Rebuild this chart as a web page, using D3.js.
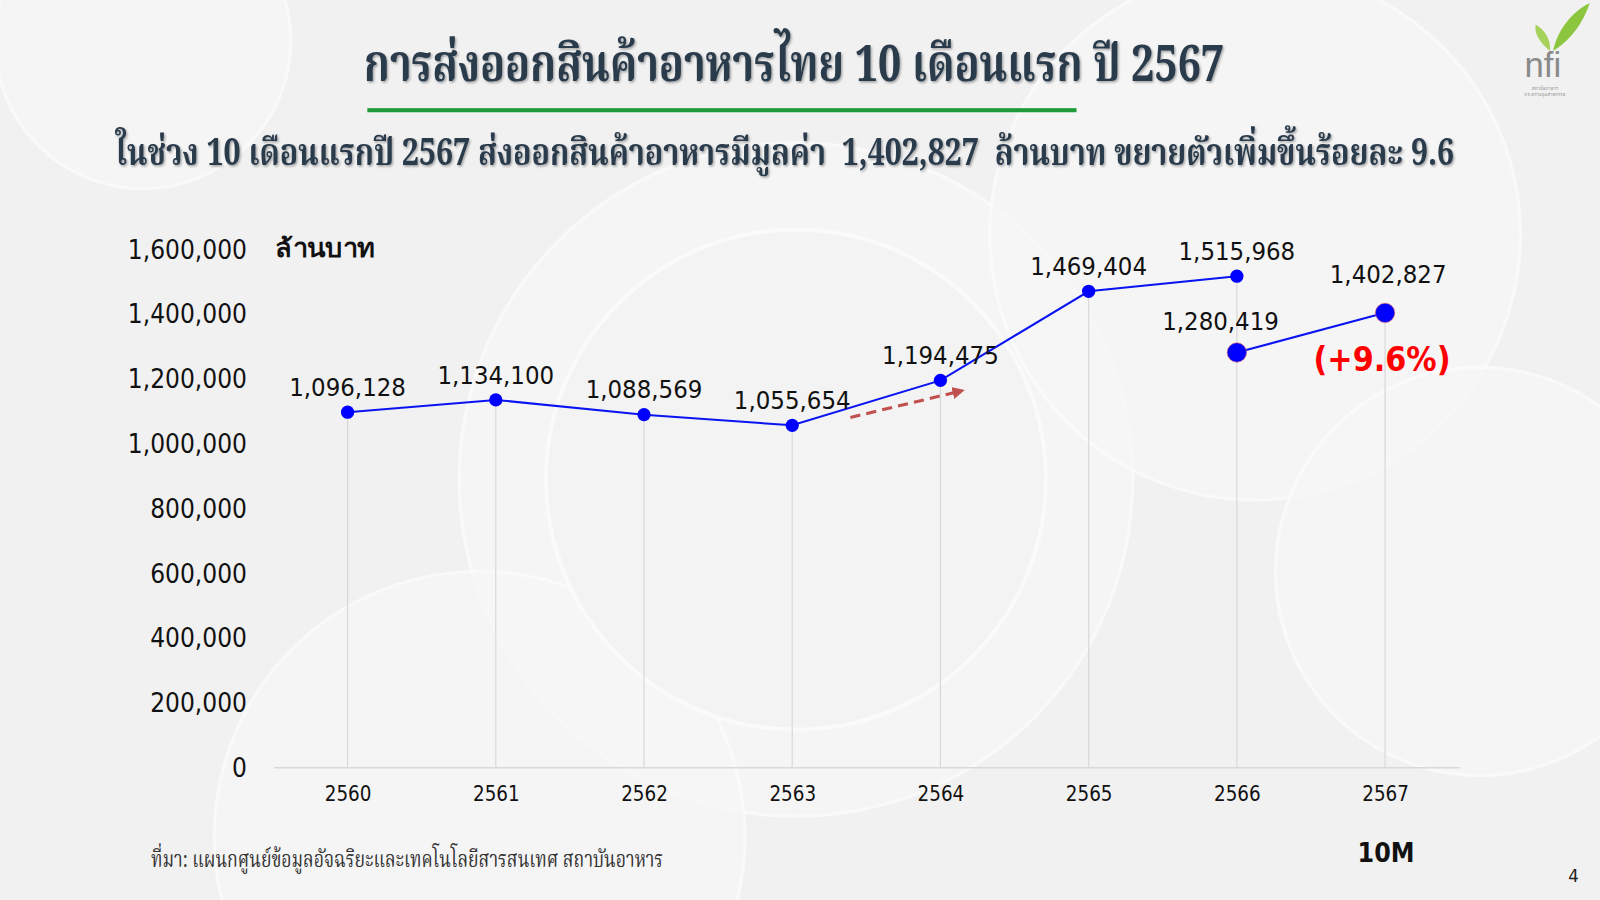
<!DOCTYPE html>
<html><head><meta charset="utf-8">
<script src="https://cdn.jsdelivr.net/npm/d3@7"></script>
<style>
html,body{margin:0;padding:0;background:#f3f3f3;}
svg{display:block;}
</style></head>
<body>
<svg id="c" width="1600" height="900"></svg>
<script>
const years = ["2560","2561","2562","2563","2564","2565","2566","2567"];
const fullYearYears = ["2560","2561","2562","2563","2564","2565","2566"];
const fullYearValues = [1096128, 1134100, 1088569, 1055654, 1194475, 1469404, 1515968];
const tenMonthYears = ["2566","2567"];
const tenMonthValues = [1280419, 1402827];
const yTicks = [0,200000,400000,600000,800000,1000000,1200000,1400000,1600000];
const titleText = "การส่งออกสินค้าอาหารไทย 10 เดือนแรก ปี 2567";
const subtitleText = "ในช่วง 10 เดือนแรกปี 2567 ส่งออกสินค้าอาหารมีมูลค่า  1,402,827  ล้านบาท ขยายตัวเพิ่มขึ้นร้อยละ 9.6";
const unitText = "ล้านบาท";
const growthText = "(+9.6%)";
const periodText = "10M";
const sourceText = "ที่มา: แผนกศูนย์ข้อมูลอัจฉริยะและเทคโนโลยีสารสนเทศ สถาบันอาหาร";

const K = 1600/1568;
const svgRoot = d3.select("#c");
const defs = svgRoot.append("defs");
const svg = svgRoot.append("g").attr("transform",`scale(${K})`);
const thaiSerif = "'Noto Serif Thai','Angsana New','TH Sarabun New','Noto Sans Thai',serif";
const tahoma = "Tahoma,'DejaVu Sans Condensed','Liberation Sans',sans-serif";

// horizontally condensed text: scale to a target width via transform
function condensed(parent, txt, cx, by, width, anchor) {
  const t = parent.append("text").attr("x",0).attr("y",0).style("white-space","pre")
    .attr("text-anchor",anchor).text(txt);
  return {t, fit(){
    const w = t.node().getComputedTextLength();
    const s = Math.min(1, width / w);
    t.attr("transform",`translate(${cx},${by}) scale(${s},1)`);
    return t;
  }};
}

// background decoration
const bg = svg.append("g");
bg.append("rect").attr("width",1600).attr("height",900).attr("fill","#f1f1f1");
[[140,40,145],[780,470,330],[1230,230,260],[1450,560,200],[470,820,260]].forEach(([cx,cy,r])=>{
  bg.append("circle").attr("cx",cx).attr("cy",cy).attr("r",r).attr("fill","#f7f7f7").attr("stroke","#fcfcfc").attr("stroke-width",3).attr("opacity",0.8);
});
bg.append("circle").attr("cx",780).attr("cy",470).attr("r",245).attr("fill","#f3f3f3").attr("stroke","#fafafa").attr("stroke-width",4);

// title
const f = defs.append("filter").attr("id","sh").attr("x","-5%").attr("y","-30%").attr("width","110%").attr("height","170%");
f.append("feDropShadow").attr("dx",1.5).attr("dy",1.5).attr("stdDeviation",1).attr("flood-color","#000").attr("flood-opacity",0.35);

const tt = condensed(svg, titleText, 778, 79, 843, "middle");
tt.t.attr("font-family",thaiSerif).attr("font-weight","bold").attr("font-size",50)
  .attr("fill","#2a3b4c").attr("filter","url(#sh)");
tt.fit();
svg.append("rect").attr("x",360).attr("y",106).attr("width",695).attr("height",4).attr("fill","#1f9a3a");
const st = condensed(svg, subtitleText, 769, 162, 1312, "middle");
st.t.attr("font-family",thaiSerif).attr("font-weight","bold").attr("font-size",37)
  .attr("fill","#2a3b4c").attr("filter","url(#sh)");
st.fit();

// scales
const x = d3.scalePoint().domain(years).range([268,1430]).padding(0.5);
const y = d3.scaleLinear().domain([0,1600000]).range([752,244]);

// y axis labels
const yAxis = d3.axisLeft(y).tickValues(yTicks).tickFormat(d3.format(",")).tickSize(0).tickPadding(0);
const ya = svg.append("g").attr("transform","translate(242,0)").call(yAxis);
ya.select(".domain").remove();
ya.selectAll("text").attr("font-family",tahoma).attr("font-size",25.5).attr("fill","#111").attr("dy","0.35em");

// x axis
const xAxis = d3.axisBottom(x).tickSize(0).tickPadding(15);
const xa = svg.append("g").attr("transform","translate(0,752)").call(xAxis);
xa.select(".domain").attr("stroke","#d9d9d9").attr("stroke-width",1.5);
xa.selectAll("text").attr("font-family",tahoma).attr("font-size",20).attr("fill","#111").attr("dy","0.9em");

// unit
svg.append("text").attr("x",270).attr("y",252).attr("font-family",tahoma).attr("font-weight","bold")
  .attr("font-size",25).attr("textLength",98).attr("lengthAdjust","spacingAndGlyphs").attr("fill","#111").text(unitText);

// drop lines
const topVals = years.map(yr=>{
  const a = fullYearYears.indexOf(yr), b = tenMonthYears.indexOf(yr);
  return Math.max(a>=0?fullYearValues[a]:0, b>=0?tenMonthValues[b]:0);
});
svg.append("g").selectAll("line").data(years).join("line")
  .attr("x1",d=>x(d)).attr("x2",d=>x(d))
  .attr("y1",(d,i)=>y(topVals[i])).attr("y2",752)
  .attr("stroke","#d9d9d9").attr("stroke-width",1.2);

const line = d3.line().x(d=>x(d[0])).y(d=>y(d[1]));
const fullData = fullYearYears.map((d,i)=>[d,fullYearValues[i]]);
const tenData = tenMonthYears.map((d,i)=>[d,tenMonthValues[i]]);

svg.append("path").datum(fullData).attr("d",line).attr("fill","none").attr("stroke","#0a14f0").attr("stroke-width",2);
svg.append("path").datum(tenData).attr("d",line).attr("fill","none").attr("stroke","#0a14f0").attr("stroke-width",2);

svg.append("g").selectAll("circle").data(fullData).join("circle")
  .attr("cx",d=>x(d[0])).attr("cy",d=>y(d[1])).attr("r",6.5).attr("fill","#0000ff");
svg.append("g").selectAll("circle").data(tenData).join("circle")
  .attr("cx",d=>x(d[0])).attr("cy",d=>y(d[1])).attr("r",9.5).attr("fill","#0000ff").attr("stroke","#e06060").attr("stroke-width",0.6);

// labels
const fmt = d3.format(",");
svg.append("g").selectAll("text").data(fullData).join("text")
  .attr("x",d=>x(d[0])).attr("y",d=>y(d[1])-16).attr("text-anchor","middle")
  .attr("font-family",tahoma).attr("font-size",25).attr("fill","#111").text(d=>fmt(d[1]));
const tenDx = [-16, 3], tenDy = [-22, -29];
svg.append("g").selectAll("text").data(tenData).join("text")
  .attr("x",(d,i)=>x(d[0])+tenDx[i]).attr("y",(d,i)=>y(d[1])+tenDy[i]).attr("text-anchor","middle")
  .attr("font-family",tahoma).attr("font-size",25).attr("fill","#111").text(d=>fmt(d[1]));

// growth
svg.append("text").attr("x",x("2567")-3).attr("y",y(tenMonthValues[1])+57).attr("text-anchor","middle")
  .attr("font-family",tahoma).attr("font-weight","bold").attr("font-size",33).attr("fill","#ff0000").text(growthText);

// dashed arrow
const m = defs.append("marker").attr("id","ah").attr("viewBox","0 0 10 10").attr("refX",5).attr("refY",5)
  .attr("markerWidth",4).attr("markerHeight",4).attr("orient","auto");
m.append("path").attr("d","M0,0L10,5L0,10z").attr("fill","#c0504d");
const ax1 = x("2563")+57, ax2 = x("2564")+18;
svg.append("line").attr("x1",ax1).attr("y1",y(1080000)).attr("x2",ax2).attr("y2",y(1160000))
  .attr("stroke","#c0504d").attr("stroke-width",3).attr("stroke-dasharray","10,6").attr("marker-end","url(#ah)");

// footer
const src = condensed(svg, sourceText, 148, 850, 502, "start");
src.t.attr("font-family",thaiSerif).attr("font-size",22).attr("fill","#333");
src.fit();
svg.append("text").attr("x",x("2567")+1).attr("y",845).attr("text-anchor","middle").attr("font-family",tahoma)
  .attr("font-weight","bold").attr("font-size",26).attr("fill","#111").text(periodText);
svg.append("text").attr("x",1542).attr("y",864).attr("text-anchor","middle").attr("font-family",tahoma)
  .attr("font-size",18).attr("fill","#222").text("4");

// logo
const lg = svg.append("g");
lg.append("path").attr("d","M1522,50 C1526,30 1540,12 1558,3 C1552,21 1541,38 1522,50Z").attr("fill","#8cc63f");
lg.append("path").attr("d","M1519,50 C1510,42 1503,34 1505,24 C1515,30 1520,40 1519,50Z").attr("fill","#a6d15a");
lg.append("text").attr("x",1512).attr("y",75).attr("text-anchor","middle").attr("font-family","'Liberation Sans',sans-serif")
  .attr("font-size",34).attr("fill","#8a8a8a").text("nfi");
lg.append("text").attr("x",1514).attr("y",88).attr("text-anchor","middle").attr("font-family",thaiSerif)
  .attr("font-size",4.5).attr("fill","#888").text("สถาบันอาหาร");
lg.append("text").attr("x",1514).attr("y",94).attr("text-anchor","middle").attr("font-family",thaiSerif)
  .attr("font-size",4.5).attr("fill","#888").text("กระทรวงอุตสาหกรรม");
</script>
</body></html>
